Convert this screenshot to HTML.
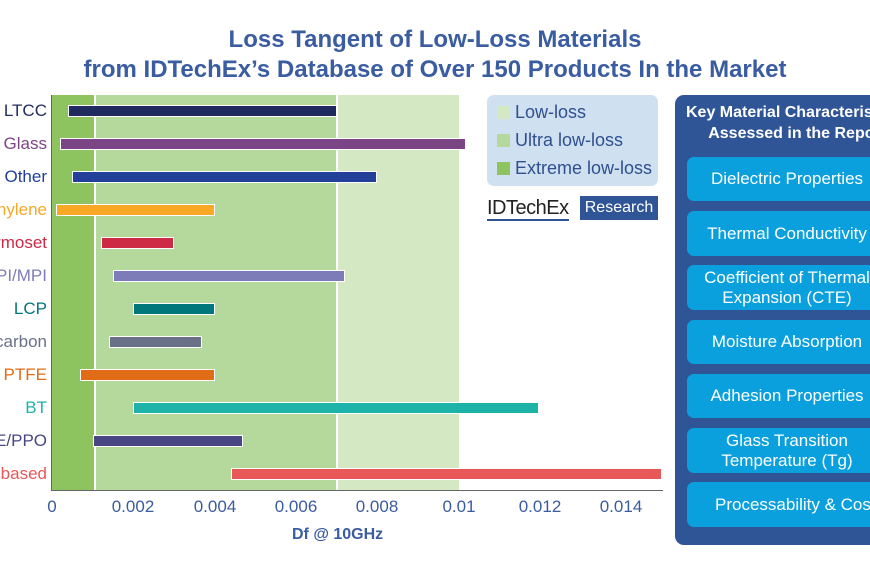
<!DOCTYPE html>
<html><head><style>
body{margin:0;width:870px;height:570px;overflow:hidden;background:#fff;font-family:"Liberation Sans",sans-serif}
#w{position:relative;width:870px;height:570px;overflow:hidden}
.a{position:absolute}
.t{left:0;width:870px;text-align:center;color:#3a5ca0;font-weight:bold;font-size:24px;line-height:30px}
.lab{right:823px;text-align:right;font-size:17px;white-space:nowrap;line-height:20px}
.bar{height:12px;border:1px solid #fff;box-sizing:border-box}
.tick{top:497px;font-size:17px;color:#3a5ca0;transform:translateX(-50%)}
.btn{left:687px;width:200px;background:#0aa0dd;border-radius:7px;color:#fff;font-size:17px;text-align:center;display:flex;align-items:center;justify-content:center;line-height:20px;white-space:nowrap}
.lg{left:497px;font-size:18px;color:#2f4f8f}
.lg span{display:inline-block;width:13px;height:13px;margin-right:5px;vertical-align:-1px}
</style></head><body><div id="w">
<div class="a t" style="top:25px">Loss Tangent of Low-Loss Materials</div>
<div class="a t" style="top:55px">from IDTechEx’s Database of Over 150 Products In the Market</div>
<div class="a" style="left:52px;top:95px;width:407px;height:395px;background:#d4e8c4"></div>
<div class="a" style="left:52px;top:95px;width:285px;height:395px;background:#b5d99c"></div>
<div class="a" style="left:52px;top:95px;width:43px;height:395px;background:#8dc460"></div>
<div class="a" style="left:94px;top:95px;width:2px;height:395px;background:#fff"></div>
<div class="a" style="left:336px;top:95px;width:2px;height:395px;background:#fff"></div>
<div class="a" style="left:51px;top:95px;width:1px;height:396px;background:#666"></div>
<div class="a" style="left:51px;top:490px;width:612px;height:1px;background:#666"></div>
<div class="a bar" style="left:68px;top:105px;width:269px;background:#1f2a5e"></div>
<div class="a bar" style="left:60px;top:138px;width:406px;background:#7b4585"></div>
<div class="a bar" style="left:72px;top:171px;width:305px;background:#22409a"></div>
<div class="a bar" style="left:56px;top:204px;width:159px;background:#f9a825"></div>
<div class="a bar" style="left:101px;top:237px;width:73px;background:#cc2a45"></div>
<div class="a bar" style="left:113px;top:270px;width:232px;background:#7d7bb8"></div>
<div class="a bar" style="left:133px;top:303px;width:82px;background:#00777a"></div>
<div class="a bar" style="left:109px;top:336px;width:93px;background:#6a7088"></div>
<div class="a bar" style="left:80px;top:369px;width:135px;background:#e06c16"></div>
<div class="a bar" style="left:133px;top:402px;width:406px;background:#1eb3a8"></div>
<div class="a bar" style="left:93px;top:435px;width:150px;background:#4a4585"></div>
<div class="a bar" style="left:231px;top:468px;width:431px;background:#e85858"></div>
<div class="a lab" style="top:101px;color:#1f2a5e">LTCC</div>
<div class="a lab" style="top:134px;color:#7b4585">Glass</div>
<div class="a lab" style="top:167px;color:#22409a">Other</div>
<div class="a lab" style="top:200px;color:#f9a825">Polyphenylene</div>
<div class="a lab" style="top:233px;color:#cc2a45">Thermoset</div>
<div class="a lab" style="top:266px;color:#7d7bb8">PI/MPI</div>
<div class="a lab" style="top:299px;color:#00777a">LCP</div>
<div class="a lab" style="top:332px;color:#6a7088">Hydrocarbon</div>
<div class="a lab" style="top:365px;color:#e06c16">PTFE</div>
<div class="a lab" style="top:398px;color:#1eb3a8">BT</div>
<div class="a lab" style="top:431px;color:#4a4585">PPE/PPO</div>
<div class="a lab" style="top:464px;color:#e85858">Epoxy-based</div>
<div class="a tick" style="left:52px">0</div>
<div class="a tick" style="left:133px">0.002</div>
<div class="a tick" style="left:215px">0.004</div>
<div class="a tick" style="left:296px">0.006</div>
<div class="a tick" style="left:377px">0.008</div>
<div class="a tick" style="left:459px">0.01</div>
<div class="a tick" style="left:540px">0.012</div>
<div class="a tick" style="left:621px">0.014</div>
<div class="a" style="left:292px;top:526px;font-size:16px;font-weight:bold;color:#3a5ca0">Df @ 10GHz</div>
<div class="a" style="left:487px;top:95px;width:171px;height:91px;background:#cfe0f0;border-radius:7px"></div>
<div class="a lg" style="top:102px"><span style="background:#d4e8c4"></span>Low-loss</div>
<div class="a lg" style="top:130px"><span style="background:#b5d99c"></span>Ultra low-loss</div>
<div class="a lg" style="top:158px"><span style="background:#8dc460"></span>Extreme low-loss</div>
<div class="a" style="left:487px;top:197px;font-size:20px;color:#222;border-bottom:2px solid #2f5597;line-height:22px;letter-spacing:-0.5px">IDTechEx</div>
<div class="a" style="left:580px;top:196px;width:78px;height:24px;background:#2f5597;color:#fff;font-size:16px;text-align:center;line-height:24px">Research</div>
<div class="a" style="left:675px;top:95px;width:220px;height:450px;background:#2f5597;border-radius:9px"></div>
<div class="a" style="left:680px;top:102px;width:250px;text-align:left;padding-left:6px;color:#fff;font-weight:bold;font-size:16px;line-height:21px;white-space:nowrap">Key Material Characteristics<br>&nbsp;&nbsp;&nbsp;&nbsp;&nbsp;Assessed in the Report</div>
<div class="a btn" style="top:157px;height:44px">Dielectric Properties</div>
<div class="a btn" style="top:211px;height:45px">Thermal Conductivity</div>
<div class="a btn" style="top:265px;height:45px">Coefficient of Thermal<br>Expansion (CTE)</div>
<div class="a btn" style="top:320px;height:44px">Moisture Absorption</div>
<div class="a btn" style="top:374px;height:44px">Adhesion Properties</div>
<div class="a btn" style="top:428px;height:45px">Glass Transition<br>Temperature (Tg)</div>
<div class="a btn" style="top:482px;height:45px;justify-content:flex-start;padding-left:28px;box-sizing:border-box">Processability &amp; Cost</div>
</div></body></html>
